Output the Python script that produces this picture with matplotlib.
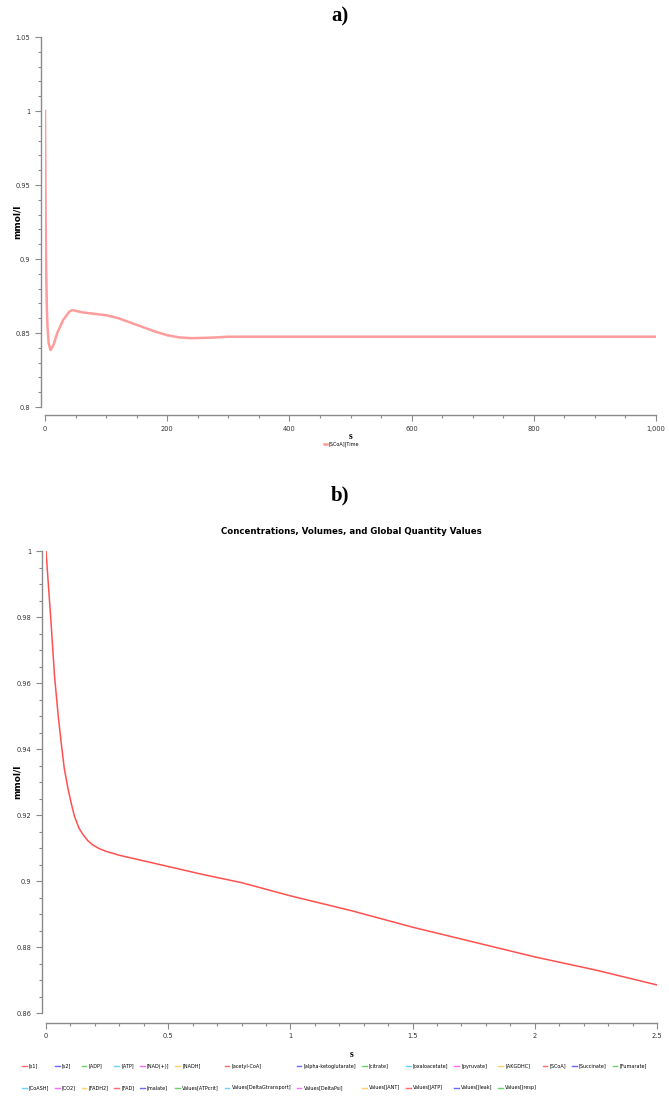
import matplotlib
matplotlib.use('Agg')
import matplotlib.pyplot as plt
from matplotlib.lines import Line2D
from matplotlib.ticker import MultipleLocator, FuncFormatter

# panel a: [SCoA] over 1000 s
a_time = [0, 1, 2, 3, 4, 6, 9, 14, 20, 30, 40, 45, 60, 80, 100, 120, 140, 160,
          180, 200, 220, 240, 260, 280, 300, 400, 600, 800, 1000]
a_scoa = [1.0, 0.93, 0.89, 0.868, 0.855, 0.843, 0.8385, 0.842, 0.850, 0.859,
          0.8645, 0.8655, 0.864, 0.863, 0.862, 0.860, 0.857, 0.854, 0.851,
          0.8485, 0.847, 0.8465, 0.8467, 0.847, 0.8475, 0.8475, 0.8475, 0.8475, 0.8475]

# panel b: first 2.5 s
b_time = [0, 0.02, 0.035, 0.05, 0.062, 0.075, 0.09, 0.105, 0.117, 0.135, 0.15,
          0.17, 0.19, 0.215, 0.245, 0.3, 0.435, 0.64, 0.8, 1.0, 1.25, 1.5, 1.75,
          2.0, 2.25, 2.5]
b_val = [1.0, 0.979, 0.962, 0.950, 0.942, 0.934, 0.928, 0.923, 0.9195, 0.916,
         0.9142, 0.9123, 0.911, 0.9099, 0.909, 0.9078, 0.9055, 0.902, 0.8995,
         0.8955, 0.891, 0.886, 0.8815, 0.877, 0.873, 0.8685]

legend_row1 = ['[s1]', '[s2]', '[ADP]', '[ATP]', '[NAD(+)]', '[NADH]', '[acetyl-CoA]',
               '[alpha-ketoglutarate]', '[citrate]', '[oxaloacetate]', '[pyruvate]',
               '[AKGDHC]', '[SCoA]', '[Succinate]', '[Fumarate]']
legend_row2 = ['[CoASH]', '[CO2]', '[FADH2]', '[FAD]', '[malate]', 'Values[ATPcrit]',
               'Values[DeltaGtransport]', 'Values[DeltaPsi]', 'Values[JANT]',
               'Values[JATP]', 'Values[Jleak]', 'Values[Jresp]']
cycle = ['#ff6a6a', '#6a6aff', '#6ad26a', '#6ad2ff', '#ff6aff', '#ffd26a']

W, H = 669, 1096
fig = plt.figure(figsize=(W / 100, H / 100), dpi=100)
plt.rcParams['font.family'] = 'DejaVu Sans'


def style_axes(ax):
    for s in ['top', 'right']:
        ax.spines[s].set_visible(False)
    ax.spines['left'].set_position(('outward', 3))
    ax.spines['bottom'].set_position(('outward', 6))
    for s in ['left', 'bottom']:
        ax.spines[s].set_color('#8a8a8a')
        ax.spines[s].set_linewidth(1.0)
    ax.tick_params(which='both', direction='out', colors='#8a8a8a', labelcolor='#333333',
                   labelsize=4.8, width=0.8)
    ax.tick_params(which='major', length=4)
    ax.tick_params(which='minor', length=2.5)


fmt_g = FuncFormatter(lambda v, p: '{:g}'.format(round(v, 4)))

# ---- a) ----
ax_a = fig.add_axes([45 / W, 1 - 407 / H, 611 / W, 370 / H])
ax_a.plot(a_time, a_scoa, color='#ff9c9c', lw=1.8, label='[SCoA]|Time')
ax_a.set_xlim(0, 1000)
ax_a.set_ylim(0.8, 1.05)
ax_a.xaxis.set_major_locator(MultipleLocator(200))
ax_a.xaxis.set_minor_locator(MultipleLocator(50))
ax_a.yaxis.set_major_locator(MultipleLocator(0.05))
ax_a.yaxis.set_minor_locator(MultipleLocator(0.01))
ax_a.xaxis.set_major_formatter(FuncFormatter(lambda v, p: '{:,.0f}'.format(v)))
ax_a.yaxis.set_major_formatter(fmt_g)
style_axes(ax_a)
ax_a.set_ylabel('mmol/l', fontsize=6.5, fontweight='bold')
ax_a.yaxis.set_label_coords((22 - 45) / 611, 0.5)
ax_a.set_xlabel('s', fontsize=7, fontweight='bold', family='Liberation Serif')
ax_a.xaxis.set_label_coords(0.5, (407 - 432) / 370)
ax_a.legend(loc='center', bbox_to_anchor=(0.485, (407 - 444) / 370), frameon=False,
            fontsize=3.5, handlelength=0.6, handletextpad=0.4)

# ---- b) ----
ax_b = fig.add_axes([46 / W, 1 - 1013 / H, 611 / W, 462 / H])
ax_b.plot(b_time, b_val, color='#ff5050', lw=1.1)
ax_b.set_xlim(0, 2.5)
ax_b.set_ylim(0.86, 1.0)
ax_b.xaxis.set_major_locator(MultipleLocator(0.5))
ax_b.xaxis.set_minor_locator(MultipleLocator(0.1))
ax_b.yaxis.set_major_locator(MultipleLocator(0.02))
ax_b.yaxis.set_minor_locator(MultipleLocator(0.005))
ax_b.xaxis.set_major_formatter(fmt_g)
ax_b.yaxis.set_major_formatter(fmt_g)
style_axes(ax_b)
ax_b.spines['bottom'].set_position(('outward', 7))
ax_b.set_ylabel('mmol/l', fontsize=6.5, fontweight='bold')
ax_b.yaxis.set_label_coords((22 - 46) / 611, 0.5)
ax_b.set_xlabel('s', fontsize=7, fontweight='bold', family='Liberation Serif')
ax_b.xaxis.set_label_coords(0.5, (1013 - 1050) / 462)
ax_b.set_title('Concentrations, Volumes, and Global Quantity Values', fontsize=6.2,
               fontweight='bold', pad=12)

# legend: column-major order so that the two rows read left to right
handles, labels = [], []
n1, n2 = len(legend_row1), len(legend_row2)
for i in range(n1):
    handles.append(Line2D([], [], color=cycle[i % 6], lw=1.0))
    labels.append(legend_row1[i])
    if i < n2:
        handles.append(Line2D([], [], color=cycle[(n1 + i) % 6], lw=1.0))
        labels.append(legend_row2[i])
fig.legend(handles, labels, loc='center', bbox_to_anchor=(0.5, 1 - 1077 / H), ncol=n1,
           frameon=False, fontsize=3.5, handlelength=0.9, handletextpad=0.5,
           columnspacing=1.2, labelspacing=3.4)

fig.text(340 / W, 1 - 16 / H, 'a)', ha='center', va='center', fontsize=15,
         fontweight='bold', family='Liberation Serif')
fig.text(340 / W, 1 - 495 / H, 'b)', ha='center', va='center', fontsize=15,
         fontweight='bold', family='Liberation Serif')

fig.savefig('out.png', dpi=100)
